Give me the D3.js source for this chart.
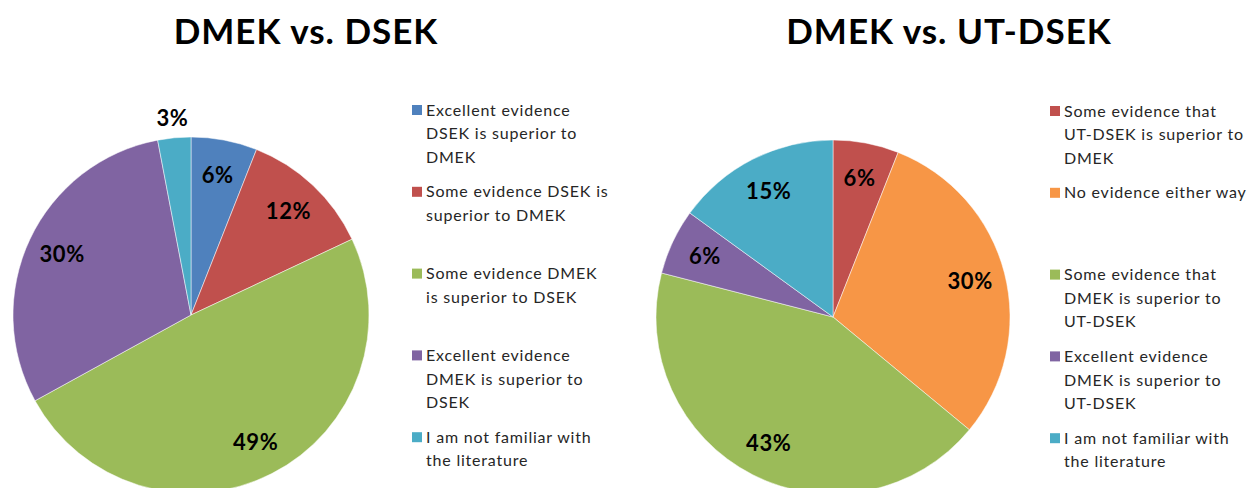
<!DOCTYPE html>
<html>
<head>
<meta charset="utf-8">
<script src="https://cdn.jsdelivr.net/npm/d3@7"></script>
<style>
  html, body { margin: 0; padding: 0; background: #fff; }
  svg { display: block; }
</style>
</head>
<body>
<svg id="chart" width="1254" height="488"></svg>
<script>
// ---- data ----
const leftTitle = "DMEK vs. DSEK";
const leftCategories = [
  "Excellent evidence\nDSEK is superior to\nDMEK",
  "Some evidence DSEK is\nsuperior to DMEK",
  "Some evidence DMEK\nis superior to DSEK",
  "Excellent evidence\nDMEK is superior to\nDSEK",
  "I am not familiar with\nthe literature"
];
const leftValues = [6, 12, 49, 30, 3];
const leftColors = ["#4F81BD", "#C0504D", "#9BBB59", "#8064A2", "#4BACC6"];

const rightTitle = "DMEK vs. UT-DSEK";
const rightCategories = [
  "Some evidence that\nUT-DSEK is superior to\nDMEK",
  "No evidence either way",
  "Some evidence that\nDMEK is superior to\nUT-DSEK",
  "Excellent evidence\nDMEK is superior to\nUT-DSEK",
  "I am not familiar with\nthe literature"
];
const rightValues = [6, 30, 43, 6, 15];
const rightColors = ["#C0504D", "#F79646", "#9BBB59", "#8064A2", "#4BACC6"];

// ---- drawing ----
const svg = d3.select("#chart");
const FONT = "Lato, 'Open Sans', sans-serif";

function drawPanel(cfg) {
  const g = svg.append("g");
  g.append("text")
    .attr("x", cfg.titleX).attr("y", 44)
    .attr("text-anchor", "middle")
    .attr("font-family", FONT).attr("font-weight", 700)
    .attr("font-size", 35).attr("letter-spacing", 1).attr("fill", "#000")
    .text(cfg.title);

  const pie = d3.pie().sort(null).value(d => d)(cfg.values);
  const arc = d3.arc().innerRadius(0).outerRadius(cfg.r);
  const pg = g.append("g").attr("transform", `translate(${cfg.cx},${cfg.cy})`);
  pg.selectAll("path").data(pie).join("path")
    .attr("d", arc)
    .attr("fill", (d, i) => cfg.colors[i])
    .attr("stroke", "#fff").attr("stroke-width", 0.5);

  pg.selectAll("text").data(pie).join("text")
    .attr("transform", (d, i) => {
      const a = (d.startAngle + d.endAngle) / 2;
      const rr = cfg.values[i] < 5 ? cfg.r * 1.11 : cfg.r * 0.8;
      return `translate(${Math.sin(a) * rr},${-Math.cos(a) * rr})`;
    })
    .attr("text-anchor", "middle").attr("dy", "0.35em")
    .attr("font-family", FONT).attr("font-weight", 700)
    .attr("font-size", 22).attr("letter-spacing", 0.6).attr("fill", "#000")
    .text(d => d.value + "%");

  const y = d3.scaleLinear().domain([0, 1]).range([cfg.legendY0, cfg.legendY0 + 81.8]);
  const lg = g.append("g");
  cfg.categories.forEach((c, i) => {
    const yy = y(i);
    lg.append("rect")
      .attr("x", cfg.legendX).attr("y", yy - 5)
      .attr("width", 10).attr("height", 10)
      .attr("fill", cfg.colors[i]);
    const t = lg.append("text")
      .attr("font-family", FONT).attr("font-size", 16)
      .attr("letter-spacing", 0.8).attr("fill", "#262626");
    c.split("\n").forEach((line, j) => {
      t.append("tspan").attr("x", cfg.legendX + 14).attr("y", yy + j * 23.5)
        .attr("dy", "0.35em").text(line);
    });
  });
}

drawPanel({
  title: leftTitle, titleX: 306, cx: 191, cy: 315, r: 178,
  values: leftValues, colors: leftColors, categories: leftCategories,
  legendX: 412, legendY0: 110
});
drawPanel({
  title: rightTitle, titleX: 949, cx: 833, cy: 317, r: 177,
  values: rightValues, colors: rightColors, categories: rightCategories,
  legendX: 1050, legendY0: 111
});
</script>
</body>
</html>
